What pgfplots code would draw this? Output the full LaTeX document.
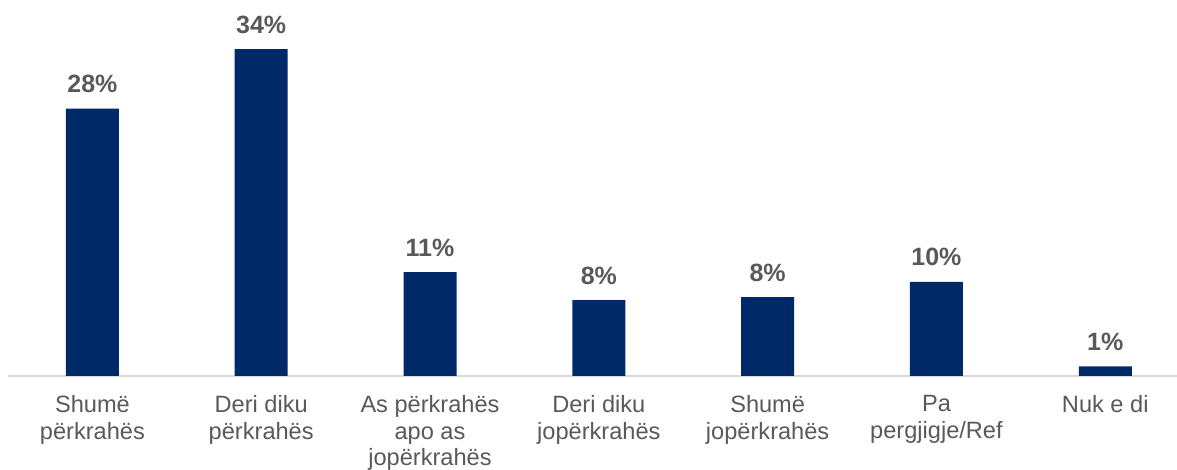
\documentclass[border=0pt]{standalone}
\usepackage{pgfplots}
\pgfplotsset{compat=1.18}
\usepackage{fontspec}
\setmainfont{Liberation Sans}
\definecolor{barblue}{RGB}{0,41,104}
\definecolor{txtgray}{RGB}{89,89,89}
\definecolor{axgray}{RGB}{217,217,217}
\begin{document}
\begin{tikzpicture}
\begin{axis}[
  scale only axis,
  width=584.5pt, height=188pt,
  xmin=-0.5, xmax=6.425,
  ymin=0, ymax=39.1,
  clip=false,
  axis y line=none,
  axis x line*=bottom,
  x axis line style={draw=axgray, line width=0.75pt, -},
  xtick={0,1,2,3,4,5,6},
  xtick style={draw=none},
  xticklabels={{Shumë\\përkrahës},{Deri diku\\përkrahës},{As përkrahës\\apo as\\jopërkrahës},{Deri diku\\jopërkrahës},{Shumë\\jopërkrahës},{Pa\\pergjigje/Ref},{Nuk e di}},
  xticklabel style={align=center, text=txtgray, font=\fontsize{11.8}{13.2}\selectfont, anchor=north, yshift=-2pt},
  ybar, bar width=26.5pt,
  /pgf/number format/assume math mode=true,
  nodes near coords={\pgfmathprintnumber[fixed,precision=0,assume math mode=true]{\pgfplotspointmeta}\%},
  every node near coord/.append style={anchor=base, yshift=8pt, text=txtgray, font=\fontsize{12.5}{15}\selectfont\bfseries},
]
\addplot[fill=barblue, draw=none] coordinates {(0,27.8) (1,34.0) (2,10.8) (3,7.9) (4,8.2) (5,9.8) (6,1.0)};
\coordinate (bl) at (rel axis cs:0,0);
\coordinate (tr) at (rel axis cs:1,1);
\end{axis}
\pgfresetboundingbox
\path ([xshift=-4pt,yshift=-47pt]bl) rectangle (tr);
\end{tikzpicture}
\end{document}
